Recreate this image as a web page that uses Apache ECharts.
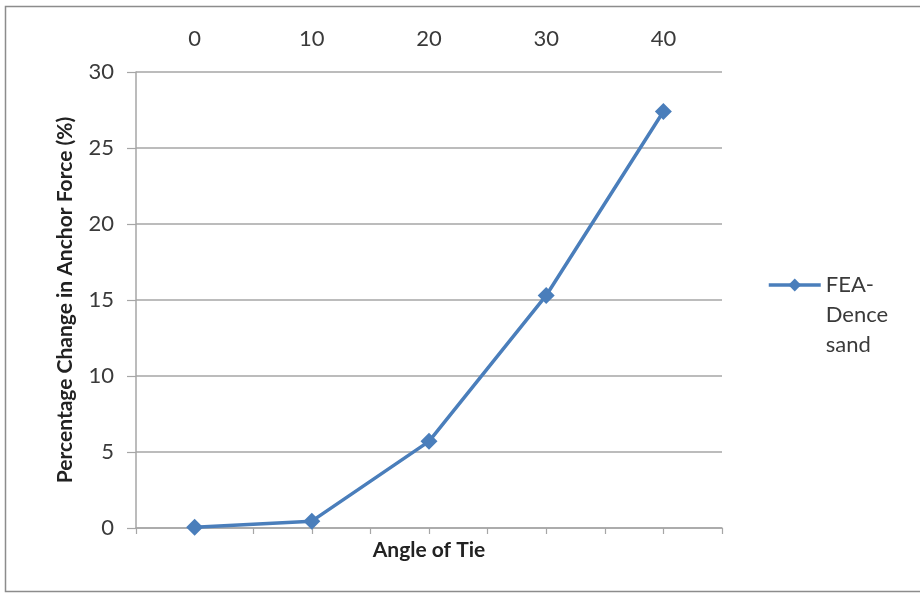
<!DOCTYPE html>
<html>
<head>
<meta charset="utf-8">
<script src="https://cdn.jsdelivr.net/npm/echarts@6/dist/echarts.min.js"></script>
<style>
  html, body { margin: 0; padding: 0; background: #fff; }
  #chart { width: 920px; height: 593px; }
</style>
</head>
<body>
<div id="chart"></div>
<script>
// Tie angles (degrees) and the resulting change in anchor force (%)
const angles = ['0', '10', '20', '30', '40'];
const forceChange = [0.05, 0.45, 5.7, 15.3, 27.4];
const seriesName = 'FEA-Dence sand';
const yTicks = { min: 0, max: 30, step: 5 };

const FONT = 'Lato, "Open Sans", sans-serif';
const TEXT = '#3a3a3a';
const GRID = '#a6a6a6';
const BLUE = '#4a7ebb';

const chart = echarts.init(document.getElementById('chart'), null, { renderer: 'canvas' });

chart.setOption({
  backgroundColor: '#fff',
  animation: false,
  graphic: [{
    type: 'rect',
    shape: { x: 5.5, y: 6.5, width: 940, height: 585 },
    style: { fill: 'none', stroke: '#8c8c8c', lineWidth: 1.5 },
    silent: true, z: -1
  }],
  grid: { left: 136, right: 198, top: 72, bottom: 65 },
  legend: {
    data: [seriesName],
    orient: 'vertical',
    left: 762,
    top: 205,
    itemWidth: 52,
    itemHeight: 16,
    lineStyle: { width: 3.5 },
    // two blank lines above keep the marker level with the first line
    formatter: () => ' \n \nFEA-\nDence\nsand',
    textStyle: { fontFamily: FONT, fontSize: 22, color: TEXT, lineHeight: 30 }
  },
  xAxis: [{
    // category labels shown above the plot
    type: 'category',
    position: 'top',
    data: angles,
    boundaryGap: true,
    axisLine: { show: false },
    axisTick: { show: false },
    axisLabel: { fontFamily: FONT, fontSize: 22, color: TEXT, margin: 22 },
    splitLine: { show: false }
  }, {
    // bottom baseline with tick marks and the axis title
    type: 'value',
    position: 'bottom',
    min: 0, max: 10, interval: 1,
    name: 'Angle of Tie',
    nameLocation: 'middle',
    nameGap: 12,
    nameTextStyle: { fontFamily: FONT, fontSize: 21, fontWeight: 'bold', color: '#222' },
    axisLine: { show: true, lineStyle: { color: GRID, width: 1.5 } },
    axisTick: { show: true, length: 6, lineStyle: { color: GRID, width: 1.2 } },
    axisLabel: { show: false },
    splitLine: { show: false }
  }],
  yAxis: {
    type: 'value',
    min: yTicks.min, max: yTicks.max, interval: yTicks.step,
    name: 'Percentage Change in Anchor Force (%)',
    nameLocation: 'middle',
    nameRotate: 90,
    nameGap: 60,
    nameTextStyle: { fontFamily: FONT, fontSize: 21, fontWeight: 'bold', color: '#222' },
    axisLine: { show: true, lineStyle: { color: GRID, width: 1.5 } },
    axisTick: { show: true, length: 9, lineStyle: { color: GRID, width: 1.2 } },
    axisLabel: { fontFamily: FONT, fontSize: 22, color: TEXT, margin: 22 },
    splitLine: { show: true, lineStyle: { color: GRID, width: 1.5 } }
  },
  series: [{
    name: seriesName,
    type: 'line',
    xAxisIndex: 0,
    data: forceChange,
    symbol: 'diamond',
    symbolSize: 17,
    itemStyle: { color: BLUE },
    lineStyle: { color: BLUE, width: 3.5 }
  }]
});
</script>
</body>
</html>
